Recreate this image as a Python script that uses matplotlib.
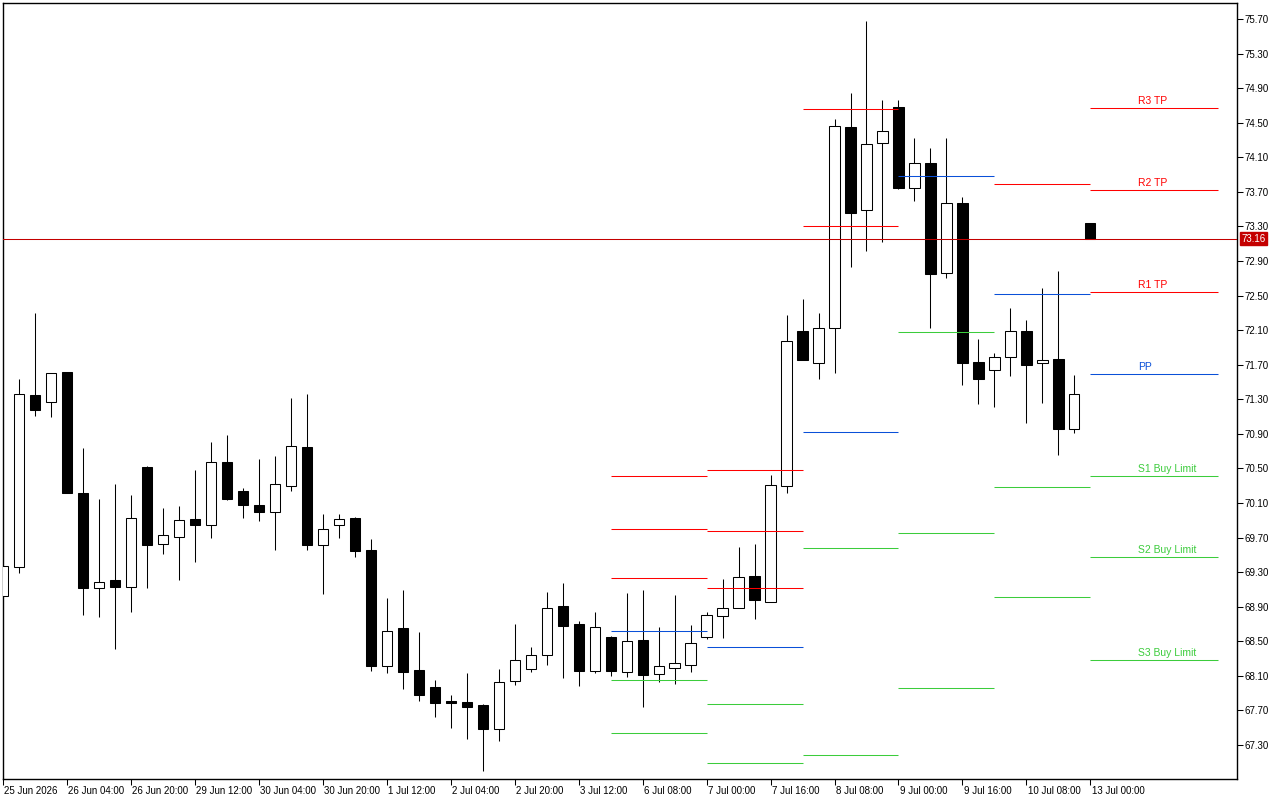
import matplotlib
matplotlib.use("Agg")
import matplotlib.pyplot as plt
from matplotlib.patches import FancyBboxPatch

# ---- data: 4H candles (bar index 0..68) ----
opens = [69.02, 69.36, 71.35, 71.27, 71.62, 70.22, 69.12, 69.21, 69.13, 70.52,
         69.63, 69.71, 69.91, 69.85, 70.58, 70.24, 70.08, 70.00, 70.30, 70.75,
         69.61, 69.85, 69.93, 69.56, 68.21, 68.65, 68.17, 67.97, 67.81, 67.80,
         67.76, 67.48, 68.04, 68.18, 68.34, 68.91, 68.70, 68.16, 68.55, 68.15,
         68.52, 68.12, 68.19, 68.23, 68.55, 68.79, 68.89, 69.26, 68.96, 70.30,
         72.09, 71.72, 72.13, 74.45, 73.49, 74.27, 74.68, 73.74, 74.03, 72.76,
         73.57, 71.73, 71.64, 71.79, 72.09, 71.72, 71.77, 70.96, 73.34]
highs = [69.38, 71.54, 72.30, 71.61, 71.62, 70.74, 70.15, 70.32, 70.19, 70.53,
         70.04, 70.07, 70.48, 70.81, 70.89, 70.27, 70.61, 70.64, 71.32, 71.36,
         69.97, 69.97, 69.94, 69.68, 69.00, 69.09, 68.61, 68.05, 67.88, 68.13,
         67.78, 68.18, 68.70, 68.43, 69.07, 69.17, 68.74, 68.84, 68.56, 69.06,
         69.09, 68.67, 69.04, 68.69, 68.84, 69.22, 69.59, 69.63, 70.42, 72.28,
         72.46, 72.30, 74.54, 74.84, 75.68, 74.76, 74.76, 74.32, 74.21, 74.32,
         73.64, 72.00, 71.84, 72.36, 72.22, 72.59, 72.78, 71.58, 73.34]
lows = [69.01, 69.29, 71.11, 71.10, 70.22, 68.80, 68.78, 68.41, 68.84, 69.12,
        69.51, 69.21, 69.42, 69.70, 70.14, 69.93, 69.89, 69.56, 70.24, 69.56,
        69.05, 69.69, 69.47, 68.16, 68.13, 67.95, 67.81, 67.62, 67.50, 67.37,
        67.00, 67.35, 67.99, 68.14, 68.23, 68.07, 67.98, 68.13, 68.10, 68.09,
        67.74, 68.03, 68.01, 68.15, 68.53, 68.54, 68.88, 68.76, 68.96, 70.22,
        71.76, 71.54, 71.60, 72.83, 73.01, 73.12, 73.73, 73.59, 72.12, 72.70,
        71.46, 71.25, 71.21, 71.57, 71.03, 71.26, 70.65, 70.91, 73.16]
closes = [69.37, 71.36, 71.18, 71.60, 70.22, 69.12, 69.19, 69.13, 69.93, 69.62,
          69.73, 69.90, 69.84, 70.57, 70.15, 70.08, 70.00, 70.32, 70.76, 69.62,
          69.80, 69.92, 69.54, 68.22, 68.62, 68.15, 67.88, 67.79, 67.79, 67.74,
          67.49, 68.03, 68.28, 68.34, 68.89, 68.68, 68.16, 68.67, 68.16, 68.50,
          68.11, 68.22, 68.25, 68.48, 68.80, 68.89, 69.24, 68.98, 70.31, 71.97,
          71.76, 72.13, 74.46, 73.46, 74.25, 74.40, 73.74, 74.03, 72.75, 73.57,
          71.72, 71.54, 71.79, 72.09, 71.70, 71.76, 70.96, 71.36, 73.16]

tick_bars = list(range(0, 69, 4))
tick_labels = ["25 Jun 2026", "26 Jun 04:00", "26 Jun 20:00", "29 Jun 12:00",
               "30 Jun 04:00", "30 Jun 20:00", "1 Jul 12:00", "2 Jul 04:00",
               "2 Jul 20:00", "3 Jul 12:00", "6 Jul 08:00", "7 Jul 00:00",
               "7 Jul 16:00", "8 Jul 08:00", "9 Jul 00:00", "9 Jul 16:00",
               "10 Jul 08:00", "13 Jul 00:00"]

price_ticks = [67.30, 67.70, 68.10, 68.50, 68.90, 69.30, 69.70, 70.10, 70.50,
               70.90, 71.30, 71.70, 72.10, 72.50, 72.90, 73.30, 73.70, 74.10,
               74.50, 74.90, 75.30, 75.70]
current_price = 73.16

# ---- daily pivot levels (segment start/end bar) ----
day_start = [38, 44, 50, 56, 62, 68]
day_end = [44, 50, 56, 62, 68, 76]
R3 = [70.41, 70.48, None, None, None, 74.67]
R2 = [69.80, 69.78, 74.66, None, None, 73.72]
R1 = [69.23, 69.12, 73.31, None, 73.79, 72.54]
PP = [68.62, 68.43, 70.92, 73.88, 72.52, 71.59]
S1 = [68.05, 67.78, 69.58, 72.08, 70.28, 70.41]
S2 = [67.44, 67.09, 67.18, 69.75, 69.01, 69.47]
S3 = [None, None, None, 67.96, None, 68.28]
level_names = ["R3 TP", "R2 TP", "R1 TP", "PP", "S1 Buy Limit", "S2 Buy Limit", "S3 Buy Limit"]

RED = "#ff0000"
BLUE = "#0a50d8"
GREEN = "#3ccc3c"
level_colors = [RED, RED, RED, BLUE, GREEN, GREEN, GREEN]
PRICE_RED = "#c40000"

plt.rcParams['font.family'] = ['Liberation Sans', 'DejaVu Sans']

fig = plt.figure(figsize=(12.8, 8), dpi=100)
ax = fig.add_axes([3 / 1280, 21 / 800, 1234 / 1280, 776 / 800])

lw = 0.75
xs = list(range(len(opens)))

# wicks
ax.vlines(xs, lows, highs, colors="black", linewidth=lw, zorder=2)
# bodies
bottoms = [min(o, c) for o, c in zip(opens, closes)]
heights = [max(abs(c - o), 0.012) for o, c in zip(opens, closes)]
faces = ["white" if c >= o else "black" for o, c in zip(opens, closes)]
ax.bar(xs, heights, bottom=bottoms, width=0.64, color=faces,
       edgecolor="black", linewidth=lw, zorder=3)

# pivot levels
for lvl, col in zip([R3, R2, R1, PP, S1, S2, S3], level_colors):
    for s, e, v in zip(day_start, day_end, lvl):
        if v is not None:
            ax.hlines(v, s, e, colors=col, linewidth=lw, zorder=4)

# labels on the latest segment
last_vals = [R3[-1], R2[-1], R1[-1], PP[-1], S1[-1], S2[-1], S3[-1]]
for name, v, col in zip(level_names, last_vals, level_colors):
    ax.annotate(name, xy=(71.0, v), xytext=(0, 1.5), textcoords="offset points",
                ha="left", va="bottom", fontsize=7.5, color=col, zorder=5)

# current price line
ax.axhline(current_price, color=PRICE_RED, linewidth=lw, zorder=4)

ax.set_xlim(0.044, 77.17)
ax.set_ylim(66.907, 75.885)

ax.yaxis.tick_right()
ax.set_yticks(price_ticks)
ax.set_yticklabels([f"{p:.2f}" for p in price_ticks])
ax.tick_params(axis="y", direction="out", length=4, width=0.75, pad=1.5,
               labelsize=7, colors="black")
ax.set_xticks(tick_bars)
ax.set_xticklabels(tick_labels, ha="left")
for lab in ax.get_xticklabels():
    lab.set_x(0)
ax.tick_params(axis="x", direction="out", length=4, width=0.75, pad=1,
               labelsize=7, colors="black")
from matplotlib.transforms import ScaledTranslation
off = ScaledTranslation(1.5 / 100, 0, fig.dpi_scale_trans)
for lab in ax.get_xticklabels():
    lab.set_transform(lab.get_transform() + off)

for sp in ax.spines.values():
    sp.set_linewidth(1)
    sp.set_color("black")

# current price tag on the axis
ax.annotate(f"{current_price:.2f}", xy=(1.0, current_price),
            xycoords=("axes fraction", "data"), xytext=(3, 0),
            textcoords="offset points", ha="left", va="center",
            fontsize=7, color="white", zorder=6, annotation_clip=False,
            bbox=dict(boxstyle="square,pad=0.15", fc=PRICE_RED, ec=PRICE_RED))

fig.savefig("out.png", dpi=100, facecolor="white")
